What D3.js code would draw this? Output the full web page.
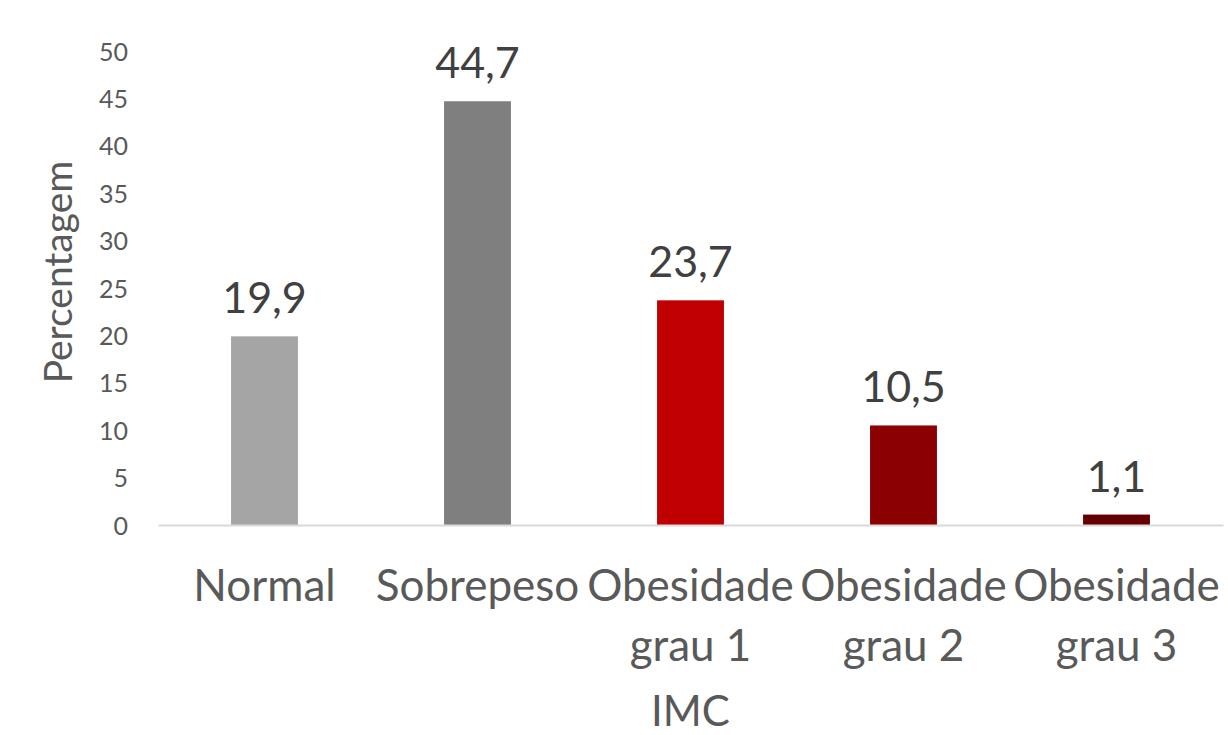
<!DOCTYPE html>
<html>
<head>
<meta charset="utf-8">
<script src="https://cdn.jsdelivr.net/npm/d3@7"></script>
<style>
  body { margin: 0; background: #fff; }
  svg text { font-family: Lato, "Open Sans", sans-serif; }
</style>
</head>
<body>
<div id="chart"></div>
<script>
// IMC categories and percentages
const categories = ["Normal", "Sobrepeso", "Obesidade grau 1", "Obesidade grau 2", "Obesidade grau 3"];
const values = [19.9, 44.7, 23.7, 10.5, 1.1];
const barColors = ["#a5a5a5", "#7f7f7f", "#c00000", "#8b0000", "#660000"];
const yTicks = [0, 5, 10, 15, 20, 25, 30, 35, 40, 45, 50];

const W = 1228, H = 735;
const plot = {left: 158, right: 1223, top: 51, bottom: 525};

const svg = d3.select("#chart")
    .append("svg")
    .attr("width", W)
    .attr("height", H);

const x = d3.scaleBand()
    .domain(categories)
    .range([plot.left, plot.right])
    .paddingInner(0.686)
    .paddingOuter(0.343);

const y = d3.scaleLinear()
    .domain([0, 50])
    .range([plot.bottom, plot.top]);

// y axis: labels only
const yAxis = svg.append("g")
    .attr("transform", `translate(${plot.left},0)`)
    .call(d3.axisLeft(y).tickValues(yTicks).tickSize(0).tickPadding(30));
yAxis.select(".domain").remove();
yAxis.selectAll("text")
    .attr("fill", "#595959")
    .style("font-size", "25px")
    .attr("dy", "0.36em");

// bars
svg.selectAll(".bar")
    .data(values)
    .enter()
    .append("rect")
    .attr("class", "bar")
    .attr("x", (d, i) => x(categories[i]))
    .attr("y", d => y(d))
    .attr("width", x.bandwidth())
    .attr("height", d => y(0) - y(d))
    .attr("fill", (d, i) => barColors[i]);

// x axis
const xAxis = svg.append("g")
    .attr("transform", `translate(0,${plot.bottom})`)
    .call(d3.axisBottom(x).tickSize(0).tickFormat(""));
xAxis.select(".domain")
    .attr("stroke", "#d9d9d9")
    .attr("stroke-width", 2);

// category labels, split on two lines
svg.selectAll(".cat")
    .data(categories)
    .enter()
    .append("text")
    .attr("class", "cat")
    .attr("text-anchor", "middle")
    .attr("fill", "#595959")
    .style("font-size", "44px")
    .each(function(d) {
        const parts = d.split(" ");
        const lines = parts.length > 1 ? [parts[0], parts.slice(1).join(" ")] : [d];
        const cx = x(d) + x.bandwidth() / 2;
        lines.forEach((line, j) => {
            d3.select(this).append("tspan")
                .attr("x", cx)
                .attr("y", 601 + j * 60)
                .text(line);
        });
    });

// value labels
svg.selectAll(".val")
    .data(values)
    .enter()
    .append("text")
    .attr("class", "val")
    .attr("text-anchor", "middle")
    .attr("fill", "#404040")
    .style("font-size", "43px")
    .attr("x", (d, i) => x(categories[i]) + x.bandwidth() / 2)
    .attr("y", d => y(d) - 23)
    .text(d => d3.format(".1f")(d).replace(".", ","));

// axis titles
svg.append("text")
    .attr("text-anchor", "middle")
    .attr("fill", "#595959")
    .style("font-size", "42px")
    .attr("x", (plot.left + plot.right) / 2)
    .attr("y", 726)
    .text("IMC");

svg.append("text")
    .attr("transform", "rotate(-90)")
    .attr("text-anchor", "middle")
    .attr("fill", "#595959")
    .style("font-size", "39px")
    .attr("x", -272)
    .attr("y", 72)
    .text("Percentagem");
</script>
</body>
</html>
